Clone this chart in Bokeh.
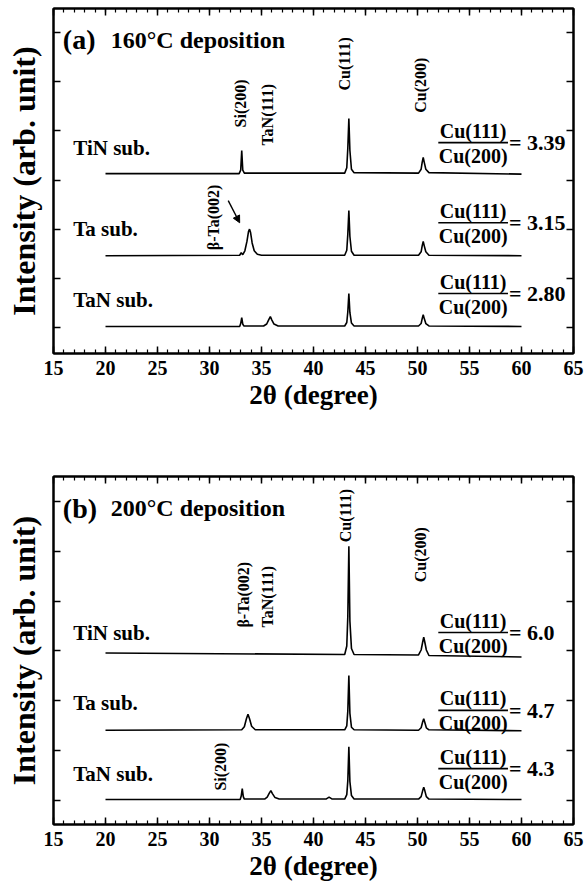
import numpy as np
from bokeh.plotting import figure
from bokeh.models import Range1d, LinearAxis, FixedTicker, Arrow, NormalHead, CustomJSTickFormatter
from bokeh.layouts import column
from bokeh.embed import file_html
from bokeh.resources import INLINE
from bokeh.core.properties import value

FONT = "Liberation Serif"

# ---- x axis (2-theta, degrees) ----
x_major = [15, 20, 25, 30, 35, 40, 45, 50, 55, 60, 65]
x_minor = list(range(15, 66))
y_major = [1, 2, 3, 4, 5, 6, 7]

substrates = ["TiN sub.", "Ta sub.", "TaN sub."]

# ---- (a) 160 C deposition: diffraction traces (offset stacked) ----
a_tin_x = [20, 32.85, 33.0, 33.1, 33.2, 33.35, 43.0, 43.2, 43.3, 43.4, 43.5, 43.65, 43.9,
           50.1, 50.35, 50.45, 50.55, 50.65, 50.8, 51.1, 60]
a_tin_y = [4.13, 4.13, 4.2, 4.60, 4.2, 4.14, 4.14, 4.25, 4.65, 5.25, 4.6, 4.22, 4.15,
           4.14, 4.22, 4.36, 4.46, 4.36, 4.22, 4.15, 4.12]

a_ta_x = [20, 32.9, 33.05, 33.2, 33.4, 33.6, 33.75, 33.85, 33.95, 34.1, 34.3, 34.6, 35.0,
          43.0, 43.2, 43.3, 43.4, 43.5, 43.65, 43.9,
          50.1, 50.35, 50.45, 50.55, 50.65, 50.8, 51.1, 60]
a_ta_y = [2.46, 2.47, 2.52, 2.48, 2.56, 2.75, 2.95, 3.0, 2.93, 2.72, 2.56, 2.49, 2.47,
          2.47, 2.57, 2.9, 3.38, 2.85, 2.55, 2.47,
          2.47, 2.54, 2.66, 2.75, 2.66, 2.54, 2.47, 2.46]

a_tan_x = [20, 32.9, 33.0, 33.1, 33.2, 33.3, 35.2, 35.5, 35.7, 35.85, 36.0, 36.2, 36.6,
           43.0, 43.2, 43.3, 43.4, 43.5, 43.65, 43.9,
           50.1, 50.35, 50.45, 50.55, 50.65, 50.8, 51.1, 60]
a_tan_y = [1.02, 1.02, 1.08, 1.2, 1.07, 1.03, 1.03, 1.07, 1.16, 1.22, 1.15, 1.07, 1.03,
           1.03, 1.1, 1.32, 1.69, 1.3, 1.09, 1.03,
           1.03, 1.08, 1.18, 1.26, 1.18, 1.08, 1.03, 1.02]

a_ratios = ["3.39", "3.15", "2.80"]

# ---- (b) 200 C deposition ----
b_tin_x = [20, 43.0, 43.2, 43.3, 43.4, 43.5, 43.65, 43.9,
           50.1, 50.35, 50.5, 50.6, 50.7, 50.85, 51.1, 60]
b_tin_y = [3.96, 3.93, 4.1, 4.7, 6.1, 4.6, 4.05, 3.93,
           3.92, 4.02, 4.18, 4.28, 4.18, 4.02, 3.91, 3.88]

b_ta_x = [20, 33.1, 33.35, 33.55, 33.7, 33.85, 34.05, 34.4,
          43.0, 43.2, 43.3, 43.4, 43.5, 43.65, 43.9,
          50.1, 50.35, 50.5, 50.6, 50.7, 50.85, 51.1, 60]
b_ta_y = [2.41, 2.42, 2.48, 2.64, 2.73, 2.64, 2.49, 2.42,
          2.42, 2.5, 2.8, 3.51, 2.75, 2.47, 2.42,
          2.41, 2.46, 2.58, 2.64, 2.57, 2.46, 2.42, 2.40]

b_tan_x = [20, 32.95, 33.05, 33.15, 33.25, 33.35, 35.3, 35.55, 35.75, 35.9, 36.05, 36.3, 36.7,
           41.2, 41.5, 41.8,
           43.0, 43.2, 43.3, 43.4, 43.5, 43.65, 43.9,
           50.1, 50.35, 50.5, 50.6, 50.7, 50.85, 51.1, 60]
b_tan_y = [1.02, 1.02, 1.09, 1.24, 1.08, 1.03, 1.03, 1.07, 1.15, 1.2, 1.14, 1.06, 1.03,
           1.03, 1.07, 1.03,
           1.03, 1.12, 1.4, 2.08, 1.38, 1.1, 1.03,
           1.03, 1.08, 1.2, 1.27, 1.2, 1.08, 1.03, 1.02]

b_ratios = ["6.0", "4.7", "4.3"]

# ---- annotation placement (data coordinates) ----
a_sub_y = [4.66, 3.01, 1.55]
a_frac_y = [4.76, 3.13, 1.69]
a_peaks = [("Si(200)", 32.95, 5.07), ("TaN(111)", 35.6, 4.7),
           ("Cu(111)", 43.0, 5.82), ("Cu(200)", 50.3, 5.37),
           ("\u03b2-Ta(002)", 30.4, 2.57)]

b_sub_y = [4.37, 2.95, 1.54]
b_frac_y = [4.37, 2.81, 1.64]
b_peaks = [("\u03b2-Ta(002)", 33.3, 4.47), ("TaN(111)", 35.6, 4.47),
           ("Cu(111)", 43.1, 6.18), ("Cu(200)", 50.3, 5.38),
           ("Si(200)", 31.1, 1.2)]

BLANK = "return ''"


def style_axis(ax, labels=True):
    ax.axis_line_width = 2
    ax.axis_line_color = "black"
    ax.major_tick_in = 7
    ax.major_tick_out = 0
    ax.minor_tick_in = 4
    ax.minor_tick_out = 0
    ax.major_tick_line_width = 1.5
    ax.minor_tick_line_width = 1.2
    ax.major_tick_line_color = "black"
    ax.minor_tick_line_color = "black"
    if labels:
        ax.major_label_text_font = FONT
        ax.major_label_text_font_style = "bold"
        ax.major_label_text_font_size = "20px"
        ax.major_label_text_color = "black"
    else:
        ax.formatter = CustomJSTickFormatter(code=BLANK)
        ax.major_label_standoff = 0


def panel(tag, title, traces, sub_y, frac_y, ratios, peaks, yr, frame_h,
          border_top, border_bottom, arrow=None):
    p = figure(frame_width=520, frame_height=frame_h,
               x_range=Range1d(15, 65), y_range=Range1d(*yr),
               output_backend="svg", toolbar_location=None,
               min_border_left=53, min_border_right=12,
               min_border_top=border_top, min_border_bottom=border_bottom)
    p.xgrid.visible = False
    p.ygrid.visible = False
    p.outline_line_color = "black"
    p.outline_line_width = 2
    p.background_fill_color = "white"
    p.border_fill_color = "white"

    xt = FixedTicker(ticks=x_major, minor_ticks=x_minor)
    yt = FixedTicker(ticks=y_major, minor_ticks=[])

    xa = p.xaxis[0]
    xa.ticker = xt
    style_axis(xa)
    xa.major_label_standoff = 7
    xa.axis_label = "2\u03b8 (degree)"
    xa.axis_label_text_font = FONT
    xa.axis_label_text_font_style = "bold"
    xa.axis_label_text_font_size = "27px"
    xa.axis_label_text_color = "black"
    xa.axis_label_standoff = 2

    ya = p.yaxis[0]
    ya.ticker = yt
    style_axis(ya, labels=False)
    ya.axis_label = "Intensity (arb. unit)"
    ya.axis_label_text_font = FONT
    ya.axis_label_text_font_style = "bold"
    ya.axis_label_text_font_size = "32px"
    ya.axis_label_text_color = "black"
    ya.axis_label_standoff = 12

    top = LinearAxis(ticker=xt)
    style_axis(top, labels=False)
    p.add_layout(top, "above")
    right = LinearAxis(ticker=yt)
    style_axis(right, labels=False)
    p.add_layout(right, "right")

    for xs, ys in traces:
        p.line(xs, ys, line_color="black", line_width=1.6)

    bold = dict(text_font=value(FONT), text_font_style="bold", text_color="black")

    # panel tag and deposition temperature
    p.text(x=[15.9], y=[yr[1] - 0.64], text=[tag], text_font_size="28px",
           text_align="left", text_baseline="middle", **bold)
    p.text(x=[20.5], y=[yr[1] - 0.64], text=[title], text_font_size="24px",
           text_align="left", text_baseline="middle", **bold)

    # substrate names
    p.text(x=[16.9] * 3, y=sub_y, text=substrates, text_font_size="21px",
           text_align="left", text_baseline="middle", **bold)

    # reflection labels, written vertically
    p.text(x=[pk[1] for pk in peaks], y=[pk[2] for pk in peaks],
           text=[pk[0] for pk in peaks], angle=np.pi / 2,
           text_font_size="16px", text_align="left", text_baseline="middle", **bold)

    # Cu(111)/Cu(200) intensity ratio
    cx, x0, x1 = 55.35, 52.0, 58.7
    p.segment(x0=[x0] * 3, y0=frac_y, x1=[x1] * 3, y1=frac_y,
              line_color="black", line_width=1.6)
    p.text(x=[cx] * 3, y=frac_y, text=["Cu(111)"] * 3, y_offset=-1,
           text_font_size="20px", text_align="center", text_baseline="bottom", **bold)
    p.text(x=[cx] * 3, y=frac_y, text=["Cu(200)"] * 3, y_offset=2,
           text_font_size="20px", text_align="center", text_baseline="top", **bold)
    p.text(x=[x1 + 0.1] * 3, y=frac_y, text=["= " + r for r in ratios],
           text_font_size="22px", text_align="left", text_baseline="middle", **bold)

    if arrow is not None:
        p.add_layout(Arrow(end=NormalHead(size=7, fill_color="black", line_color="black"),
                           x_start=arrow[0], y_start=arrow[1],
                           x_end=arrow[2], y_end=arrow[3],
                           line_color="black", line_width=1.4))
    return p


pa = panel("(a)", "160\u00b0C deposition",
           [(a_tin_x, a_tin_y), (a_ta_x, a_ta_y), (a_tan_x, a_tan_y)],
           a_sub_y, a_frac_y, a_ratios, a_peaks, (0.47, 7.49), 345, 8, 87,
           arrow=(31.8, 3.58, 32.9, 3.13))
pb = panel("(b)", "200\u00b0C deposition",
           [(b_tin_x, b_tin_y), (b_ta_x, b_ta_y), (b_tan_x, b_tan_y)],
           b_sub_y, b_frac_y, b_ratios, b_peaks, (0.52, 7.5), 348, 36, 61)

layout = column(pa, pb, spacing=0)
open("out.html", "w").write(file_html(layout, INLINE))
